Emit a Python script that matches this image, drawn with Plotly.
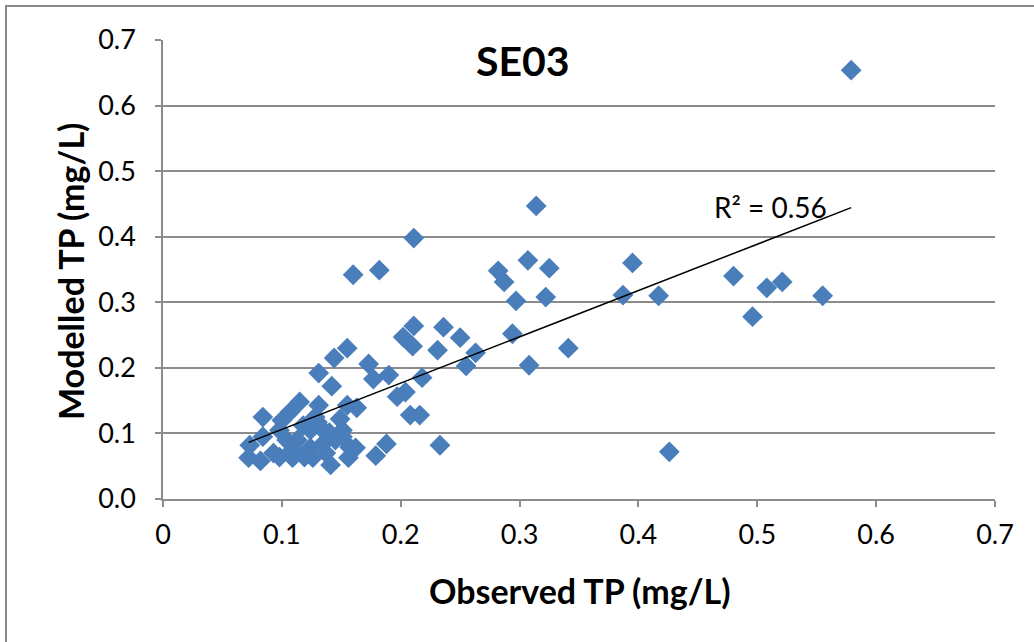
import numpy as np
import plotly.graph_objects as go

# Observed vs modelled TP (mg/L)
observed = [
    0.579, 0.314, 0.211, 0.160, 0.182, 0.282, 0.287, 0.307, 0.325, 0.395,
    0.480, 0.387, 0.417, 0.297, 0.322, 0.508, 0.521, 0.555, 0.496, 0.294,
    0.341, 0.308, 0.426, 0.233, 0.211, 0.236, 0.202, 0.210, 0.231, 0.250,
    0.263, 0.255, 0.155, 0.144, 0.173, 0.177, 0.190, 0.218, 0.131, 0.142,
    0.204, 0.197, 0.208, 0.216, 0.188, 0.179, 0.084, 0.107, 0.115, 0.131,
    0.155, 0.163, 0.149, 0.130, 0.132, 0.124, 0.151, 0.151, 0.140, 0.098,
    0.084, 0.104, 0.113, 0.135, 0.124, 0.157, 0.162, 0.073, 0.072, 0.082,
    0.093, 0.098, 0.109, 0.109, 0.126, 0.141, 0.156, 0.119, 0.100, 0.118,
    0.128, 0.145, 0.137,
]
modelled = [
    0.654, 0.447, 0.398, 0.342, 0.349, 0.348, 0.331, 0.364, 0.352, 0.360,
    0.340, 0.311, 0.310, 0.302, 0.308, 0.322, 0.331, 0.310, 0.278, 0.252,
    0.230, 0.204, 0.072, 0.082, 0.264, 0.262, 0.247, 0.233, 0.227, 0.246,
    0.223, 0.203, 0.230, 0.215, 0.206, 0.183, 0.189, 0.185, 0.192, 0.172,
    0.163, 0.156, 0.128, 0.128, 0.084, 0.066, 0.125, 0.133, 0.148, 0.143,
    0.143, 0.139, 0.122, 0.117, 0.110, 0.105, 0.105, 0.095, 0.101, 0.105,
    0.095, 0.090, 0.090, 0.085, 0.078, 0.079, 0.078, 0.082, 0.063, 0.058,
    0.070, 0.064, 0.075, 0.063, 0.063, 0.052, 0.063, 0.064, 0.120, 0.112,
    0.125, 0.090, 0.070,
]
x_ticks = [0, 0.1, 0.2, 0.3, 0.4, 0.5, 0.6, 0.7]
x_tick_text = ["0", "0.1", "0.2", "0.3", "0.4", "0.5", "0.6", "0.7"]
y_ticks = [0.0, 0.1, 0.2, 0.3, 0.4, 0.5, 0.6, 0.7]
title_text = "SE03"
r2_text = "R² = 0.56"

obs = np.array(observed)
mod = np.array(modelled)
slope, intercept = np.polyfit(obs, mod, 1)
fit_x = np.array([obs.min(), obs.max()])
fit_y = slope * fit_x + intercept

FONT = "Lato, 'Open Sans', sans-serif"
GRID = "#8c8c8c"

fig = go.Figure()
fig.add_trace(go.Scatter(
    x=observed, y=modelled, mode="markers",
    marker=dict(symbol="diamond", size=16, color="#4a7ebb", line=dict(width=0)),
    showlegend=False, hoverinfo="x+y",
))
fig.add_trace(go.Scatter(
    x=fit_x, y=fit_y, mode="lines",
    line=dict(color="black", width=1.5), showlegend=False, hoverinfo="skip",
))

L, R, T, B = 163, 995, 40, 499
W, H = 1034, 642
pw, ph = R - L, B - T

def px(xp):
    return (xp - L) / pw

def py(yp):
    return (B - yp) / ph

fig.update_layout(
    width=W, height=H, autosize=False,
    margin=dict(l=L, r=W - R, t=T, b=H - B),
    paper_bgcolor="white", plot_bgcolor="white",
    font=dict(family=FONT, color="black", size=27),
    xaxis=dict(
        range=[0, 0.7], tickvals=x_ticks, ticktext=x_tick_text,
        showgrid=False, zeroline=False,
        showline=True, linecolor=GRID, linewidth=1.5,
        ticks="outside", ticklen=6, tickcolor=GRID, tickwidth=1.5,
        tickfont=dict(size=27, family=FONT), ticklabelstandoff=5,
    ),
    yaxis=dict(
        range=[0, 0.7], tickvals=y_ticks, tickformat=".1f",
        showgrid=True, gridcolor=GRID, gridwidth=1.5, zeroline=False,
        showline=True, linecolor=GRID, linewidth=1.5,
        ticks="outside", ticklen=6, tickcolor=GRID, tickwidth=1.5,
        tickfont=dict(size=27, family=FONT), ticklabelstandoff=14,
    ),
    shapes=[dict(
        type="rect", xref="paper", yref="paper",
        x0=px(6), x1=px(1060), y0=py(670), y1=py(6),
        line=dict(color="#8a8a8a", width=2), fillcolor="rgba(0,0,0,0)", layer="below",
    )],
    annotations=[
        dict(text=f"<b>{title_text}</b>", xref="paper", yref="paper",
             x=px(523), y=py(60), showarrow=False,
             font=dict(size=41, family=FONT), xanchor="center", yanchor="middle"),
        dict(text=r2_text, xref="paper", yref="paper",
             x=px(770), y=py(207), showarrow=False,
             font=dict(size=28, family=FONT), xanchor="center", yanchor="middle"),
        dict(text="<b>Observed TP (mg/L)</b>", xref="paper", yref="paper",
             x=px(580), y=py(590), showarrow=False,
             font=dict(size=34, family=FONT), xanchor="center", yanchor="middle"),
        dict(text="<b>Modelled TP (mg/L)</b>", xref="paper", yref="paper",
             x=px(70), y=py(272), showarrow=False, textangle=-90,
             font=dict(size=34, family=FONT), xanchor="center", yanchor="middle"),
    ],
)

fig.write_html("out.html")
